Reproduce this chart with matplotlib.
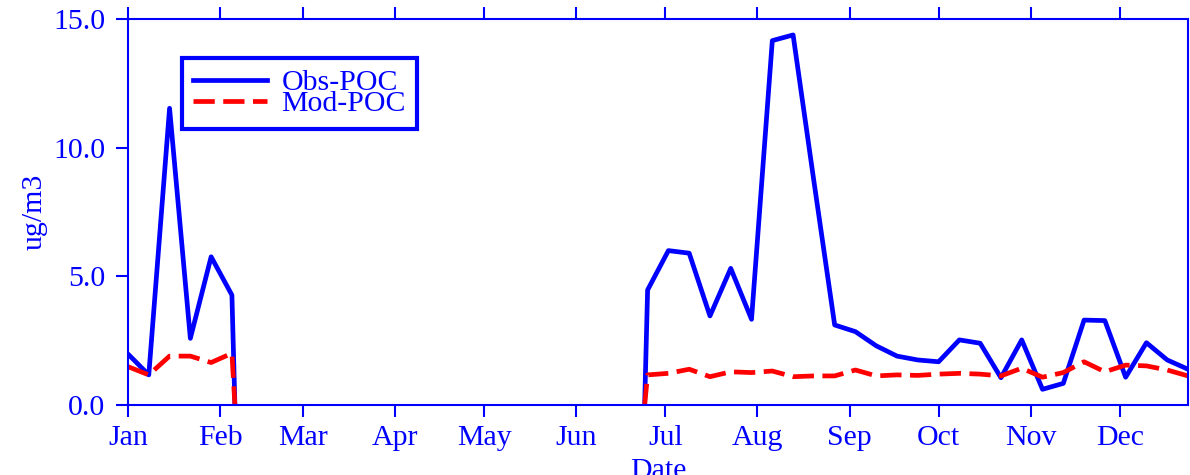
import matplotlib.pyplot as plt
import numpy as np

plt.rcParams['font.family'] = ['Liberation Serif', 'DejaVu Serif']

# day of year for each sample (weekly); no data between Feb and late Jun
days = [0, 7, 14, 21, 28, 35, 36,
        100,
        174, 175, 182, 189, 196, 203, 210, 217, 224, 231, 238, 245, 252, 259,
        266, 273, 280, 287, 294, 301, 308, 315, 322, 329, 336, 343, 350, 357]
obs_poc = [1.98, 1.17, 11.53, 2.59, 5.76, 4.27, 0.0,
           np.nan,
           0.0, 4.47, 6.0, 5.9, 3.46, 5.31, 3.33, 14.16, 14.38, 8.7, 3.11, 2.85, 2.3, 1.9,
           1.75, 1.68, 2.53, 2.40, 1.06, 2.53, 0.61, 0.84, 3.30, 3.28, 1.08, 2.42, 1.75, 1.39]
mod_poc = [1.49, 1.17, 1.90, 1.90, 1.65, 2.01, 0.0,
           np.nan,
           0.0, 1.17, 1.23, 1.39, 1.10, 1.29, 1.26, 1.32, 1.10, 1.13, 1.13, 1.36, 1.13, 1.17,
           1.15, 1.2, 1.23, 1.2, 1.13, 1.43, 1.08, 1.26, 1.68, 1.29, 1.55, 1.52, 1.36, 1.13]

month_days = [0, 31, 59, 90, 120, 151, 181, 212, 243, 273, 304, 334]
month_names = ['Jan', 'Feb', 'Mar', 'Apr', 'May', 'Jun',
               'Jul', 'Aug', 'Sep', 'Oct', 'Nov', 'Dec']

c = 'blue'
fs = 21.5
fig = plt.figure(figsize=(11.9, 4.75), dpi=100)
ax = fig.add_axes([128/1190, 70/475, 1060/1190, 386/475])

ax.plot(days, obs_poc, color=c, lw=3.4, label='Obs-POC')
ax.plot(days, mod_poc, color='red', lw=3.4, ls=(0, (4.5, 1.8)), label='Mod-POC')

ax.set_xlim(0, 357)
ax.set_ylim(0, 15)
ax.set_xticks(month_days)
ax.set_xticklabels(month_names)
ax.set_yticks([0, 5, 10, 15])
ax.set_yticklabels(['0.0', '5.0', '10.0', '15.0'])

for s in ax.spines.values():
    s.set_color(c)
    s.set_linewidth(1.5)
ax.tick_params(axis='both', direction='out', length=8.5, width=1.5, color=c,
               labelcolor=c, labelsize=fs)
ax.tick_params(axis='x', top=True, pad=6)
ax.tick_params(axis='y', pad=8)

ax.set_ylabel('ug/m3', color=c, fontsize=fs)
ax.yaxis.set_label_coords(-0.076, 0.5)
ax.set_xlabel('Date', color=c, fontsize=fs)
ax.xaxis.set_label_coords(0.5, -0.138)

leg = ax.legend(loc='upper left', bbox_to_anchor=(182/1190, 1 - 58/475),
                bbox_transform=fig.transFigure, borderaxespad=0,
                fontsize=fs, handlelength=2.45, handletextpad=0.5,
                fancybox=False, framealpha=1, labelspacing=-0.2,
                borderpad=0.38, labelcolor=c)
leg.get_frame().set_edgecolor(c)
leg.get_frame().set_linewidth(3)

fig.savefig('out.png', dpi=100)
